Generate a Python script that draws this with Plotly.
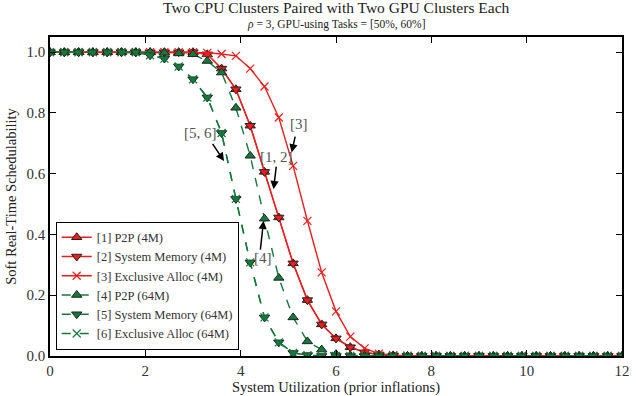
import plotly.graph_objects as go

x_util = [0.0, 0.3, 0.6, 0.9, 1.2, 1.5, 1.8, 2.1, 2.4, 2.7, 3.0, 3.3, 3.6, 3.9, 4.2, 4.5,
          4.8, 5.1, 5.4, 5.7, 6.0, 6.3, 6.6, 6.9, 7.2, 7.5, 7.8, 8.1, 8.4, 8.7, 9.0, 9.3,
          9.6, 9.9, 10.2, 10.5, 10.8, 11.1, 11.4, 11.7, 12.0]

p2p_4m = [1.0, 1.0, 1.0, 1.0, 1.0, 1.0, 1.0, 1.0, 1.0, 1.0, 1.0, 0.993, 0.946, 0.878, 0.758, 0.606,
          0.456, 0.305, 0.184, 0.104, 0.058, 0.029, 0.012, 0.005, 0.002, 0.0, 0.0, 0.0, 0.0, 0.0,
          0.0, 0.0, 0.0, 0.0, 0.0, 0.0, 0.0, 0.0, 0.0, 0.0, 0.0]
sysmem_4m = [1.0, 1.0, 1.0, 1.0, 1.0, 1.0, 1.0, 1.0, 1.0, 1.0, 1.0, 0.993, 0.946, 0.878, 0.758, 0.606,
             0.456, 0.305, 0.184, 0.104, 0.058, 0.029, 0.012, 0.005, 0.002, 0.0, 0.0, 0.0, 0.0, 0.0,
             0.0, 0.0, 0.0, 0.0, 0.0, 0.0, 0.0, 0.0, 0.0, 0.0, 0.0]
excl_4m = [1.0, 1.0, 1.0, 1.0, 1.0, 1.0, 1.0, 1.0, 1.0, 1.0, 1.0, 0.998, 0.994, 0.988, 0.946, 0.887,
           0.785, 0.626, 0.445, 0.275, 0.147, 0.064, 0.025, 0.008, 0.003, 0.001, 0.0, 0.0, 0.0, 0.0,
           0.0, 0.0, 0.0, 0.0, 0.0, 0.0, 0.0, 0.0, 0.0, 0.0, 0.0]
p2p_64m = [1.0, 1.0, 1.0, 1.0, 1.0, 1.0, 1.0, 1.0, 0.998, 0.996, 0.993, 0.971, 0.933, 0.817, 0.659, 0.452,
           0.257, 0.127, 0.048, 0.021, 0.006, 0.002, 0.0, 0.0, 0.0, 0.0, 0.0, 0.0, 0.0, 0.0,
           0.0, 0.0, 0.0, 0.0, 0.0, 0.0, 0.0, 0.0, 0.0, 0.0, 0.0]
sysmem_64m = [1.0, 1.0, 1.0, 1.0, 1.0, 1.0, 1.0, 0.99, 0.979, 0.953, 0.911, 0.851, 0.734, 0.517, 0.308, 0.127,
              0.045, 0.01, 0.003, 0.0, 0.0, 0.0, 0.0, 0.0, 0.0, 0.0, 0.0, 0.0, 0.0, 0.0,
              0.0, 0.0, 0.0, 0.0, 0.0, 0.0, 0.0, 0.0, 0.0, 0.0, 0.0]
excl_64m = [1.0, 1.0, 1.0, 1.0, 1.0, 1.0, 1.0, 0.99, 0.979, 0.953, 0.911, 0.851, 0.734, 0.517, 0.308, 0.127,
            0.045, 0.01, 0.003, 0.0, 0.0, 0.0, 0.0, 0.0, 0.0, 0.0, 0.0, 0.0, 0.0, 0.0,
            0.0, 0.0, 0.0, 0.0, 0.0, 0.0, 0.0, 0.0, 0.0, 0.0, 0.0]

names = ["[1] P2P (4M)", "[2] System Memory (4M)", "[3] Exclusive Alloc (4M)",
         "[4] P2P (64M)", "[5] System Memory (64M)", "[6] Exclusive Alloc (64M)"]

title_text = "Two CPU Clusters Paired with Two GPU Clusters Each"
subtitle_text = "<i>ρ</i> = 3, GPU-using Tasks = [50%, 60%]"

# annotation labels: (text, text_x, text_y, tail_x, tail_y, tip_x, tip_y)
labels = [
    ("[3]", 5.22, 0.763, 5.15, 0.727, 5.07, 0.670),
    ("[1, 2]", 4.76, 0.654, 4.75, 0.628, 4.69, 0.549),
    ("[4]", 4.47, 0.322, 4.41, 0.345, 4.48, 0.445),
    ("[5, 6]", 3.15, 0.733, 3.39, 0.703, 3.65, 0.642),
]

RED = "#ee1d1d"
GREEN = "#14793a"
FONT = "Liberation Serif"

fig = go.Figure()

def add(y, name, color, symbol, dash, fill, edge):
    fig.add_trace(go.Scatter(
        x=x_util, y=y, name=name, mode="lines+markers",
        line=dict(color=color, width=1.4, dash=dash),
        marker=dict(symbol=symbol, size=9 if symbol != "x-thin" else 8,
                    color=fill, line=dict(color=edge, width=1 if symbol != "x-thin" else 1.2)),
    ))

add(p2p_4m, names[0], RED, "triangle-up", "solid", RED, "#222222")
add(sysmem_4m, names[1], RED, "triangle-down", "solid", RED, "#222222")
add(excl_4m, names[2], RED, "x-thin", "solid", RED, RED)
add(p2p_64m, names[3], GREEN, "triangle-up", "dash", GREEN, "#222222")
add(sysmem_64m, names[4], GREEN, "triangle-down", "dash", GREEN, "#222222")
add(excl_64m, names[5], GREEN, "x-thin", "dash", GREEN, GREEN)

for text, tx, ty, ax, ay, hx, hy in labels:
    fig.add_annotation(x=tx, y=ty, text=text, showarrow=False,
                       font=dict(family=FONT, size=15, color="#555555"))
    fig.add_annotation(x=hx, y=hy, ax=ax, ay=ay, xref="x", yref="y", axref="x", ayref="y",
                       text="", showarrow=True, arrowhead=2, arrowsize=1.1, arrowwidth=1.5,
                       arrowcolor="black")

fig.add_annotation(x=0.5, y=1.092, xref="paper", yref="paper", text=title_text,
                   showarrow=False, xanchor="center", yanchor="middle",
                   font=dict(family=FONT, size=15.5, color="#222222"))
fig.add_annotation(x=0.5, y=1.040, xref="paper", yref="paper", text=subtitle_text,
                   showarrow=False, xanchor="center", yanchor="middle",
                   font=dict(family=FONT, size=11.5, color="#222222"))

axis_common = dict(showline=True, linecolor="black", linewidth=1.5, mirror="ticks",
                   ticks="inside", ticklen=6, tickcolor="black", showgrid=False, zeroline=False,
                   tickfont=dict(family=FONT, size=15, color="#333333"))

fig.update_layout(
    width=636, height=396,
    margin=dict(l=50, r=6, t=37, b=39),
    paper_bgcolor="white", plot_bgcolor="white",
    xaxis=dict(range=[0, 12], tickvals=[0, 2, 4, 6, 8, 10, 12],
               title=dict(text="System Utilization (prior inflations)", standoff=1,
                          font=dict(family=FONT, size=14.5, color="#222222")),
               **axis_common),
    yaxis=dict(range=[0, 1.05], tickvals=[0, 0.2, 0.4, 0.6, 0.8, 1.0], tickformat=".1f",
               title=dict(text="Soft Real-Time Schedulability", standoff=6,
                          font=dict(family=FONT, size=14.5, color="#222222")),
               **axis_common),
    legend=dict(x=0.01, y=0.02, xanchor="left", yanchor="bottom",
                bordercolor="black", borderwidth=1, bgcolor="white",
                font=dict(family=FONT, size=12.5, color="#333333"),
                tracegroupgap=0, itemwidth=30),
    showlegend=True,
)

fig.write_html("out.html")
